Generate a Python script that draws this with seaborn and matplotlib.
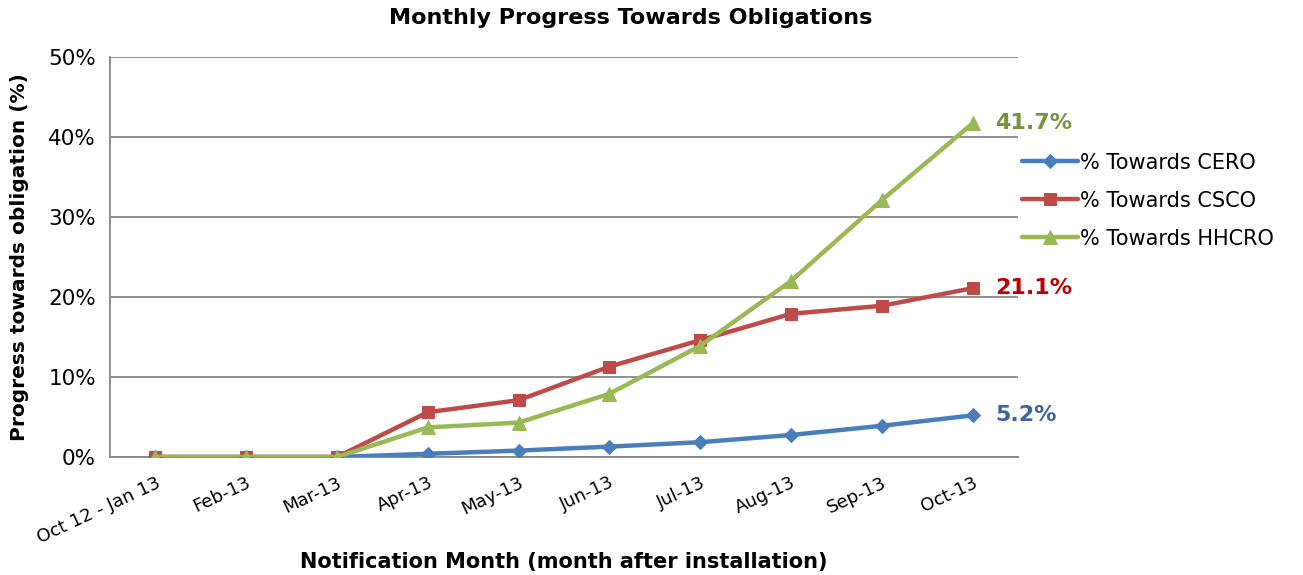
import matplotlib
matplotlib.use("Agg")
import matplotlib.pyplot as plt
import seaborn as sns
import pandas as pd
import numpy as np
from matplotlib.ticker import FuncFormatter

months = ["Oct 12 - Jan 13", "Feb-13", "Mar-13", "Apr-13", "May-13", "Jun-13",
          "Jul-13", "Aug-13", "Sep-13", "Oct-13"]
cero = [0.0, 0.0, 0.0, 0.4, 0.8, 1.3, 1.85, 2.75, 3.9, 5.2]
csco = [0.0, 0.0, 0.0, 5.6, 7.1, 11.3, 14.6, 17.9, 18.9, 21.1]
hhcro = [0.0, 0.0, 0.0, 3.7, 4.3, 7.9, 13.9, 22.0, 32.1, 41.7]
series_names = ["% Towards CERO", "% Towards CSCO", "% Towards HHCRO"]
end_labels = ["5.2%", "21.1%", "41.7%"]

line_colors = ["#4A7EBB", "#BE4B48", "#98B954"]
label_colors = ["#3B64A0", "#C00000", "#77933C"]
markers = ["D", "s", "^"]
msizes = [7, 9, 10]

sns.set_theme(style="white")
plt.rcParams['font.family'] = ['DejaVu Sans']
plt.rcParams['text.color'] = 'black'
plt.rcParams['xtick.color'] = 'black'
plt.rcParams['ytick.color'] = 'black'
plt.rcParams['axes.labelcolor'] = 'black'

rows = []
for name, vals in zip(series_names, [cero, csco, hhcro]):
    for i, v in enumerate(vals):
        rows.append({"idx": i, "month": months[i], "value": v, "series": name})
df = pd.DataFrame(rows)

fig = plt.figure(figsize=(13.03, 5.75), dpi=100)
ax = fig.add_axes([110/1303, 1 - 457/575, (1018-110)/1303, 400/575])

for name, col, mk, ms in zip(series_names, line_colors, markers, msizes):
    sub = df[df["series"] == name]
    sns.lineplot(data=sub, x="idx", y="value", ax=ax, color=col, marker=mk,
                 markersize=ms, markeredgecolor=col, linewidth=3.2, label=name,
                 zorder=3)

ax.set_xlim(-0.5, len(months) - 0.5)
ax.set_ylim(0, 50)
ax.set_yticks([0, 10, 20, 30, 40, 50])
ax.yaxis.set_major_formatter(FuncFormatter(lambda v, p: f"{int(v)}%"))
ax.set_xticks(range(len(months)))
ax.set_xticklabels(months, rotation=25, ha="right", rotation_mode="anchor", fontsize=13)
ax.tick_params(axis="y", labelsize=15.5, length=0, pad=10)
ax.tick_params(axis="x", length=0, pad=12)
ax.grid(axis="y", color="#868686", linewidth=1.3)
ax.set_axisbelow(True)
for s in ["top", "right"]:
    ax.spines[s].set_visible(False)
for s in ["left", "bottom"]:
    ax.spines[s].set_color("#868686")
    ax.spines[s].set_linewidth(1.3)

last = len(months) - 1
for vals, lab, c in zip([cero, csco, hhcro], end_labels, label_colors):
    ax.annotate(lab, xy=(last, vals[-1]), xytext=(16, 0), textcoords="offset points",
                ha="left", va="center", fontsize=16, fontweight="bold", color=c)

ax.set_xlabel("")
fig.text(564/1303, 1 - 562/575, "Notification Month (month after installation)",
         fontsize=15, fontweight="bold", ha="center", va="center")
ax.set_ylabel("Progress towards obligation (%)", fontsize=14.5, fontweight="bold",
              labelpad=14)
fig.text(631/1303, 1 - 18/575, "Monthly Progress Towards Obligations", fontsize=16,
         fontweight="bold", ha="center", va="center")

leg = ax.legend(loc="upper left", bbox_to_anchor=(1003/1303, 1 - 134/575),
                bbox_transform=fig.transFigure, frameon=False, fontsize=15,
                handlelength=2.7, labelspacing=0.86, handletextpad=0.1)

fig.savefig("out.png", dpi=100)
